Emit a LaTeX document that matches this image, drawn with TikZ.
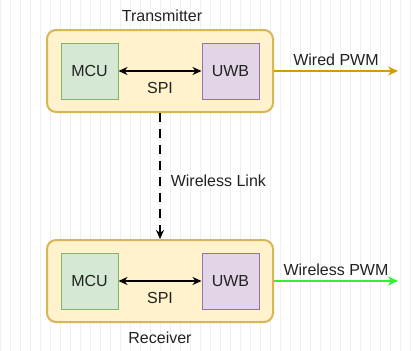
\documentclass[tikz,border=0pt]{standalone}
\usepackage{fontspec}
\setmainfont{Liberation Sans}
\usetikzlibrary{arrows.meta}
\definecolor{ybox}{HTML}{FFF2CC}
\definecolor{yline}{HTML}{D6B656}
\definecolor{gfill}{HTML}{D5E8D4}
\definecolor{gline}{HTML}{82B366}
\definecolor{pfill}{HTML}{E1D5E7}
\definecolor{pline}{HTML}{9673A6}
\definecolor{orangeline}{HTML}{D79B00}
\definecolor{greenline}{HTML}{33EE33}
\definecolor{gridc}{HTML}{F0F0F0}
\definecolor{txt}{HTML}{222222}
\begin{document}
\begin{tikzpicture}[x=1pt,y=-1pt,
  font=\fontsize{16}{19}\selectfont, text=txt,
  outer/.style={draw=yline, fill=ybox, line width=2pt, rounded corners=9pt},
  mcubox/.style={draw=gline, fill=gfill, line width=1pt, minimum width=57pt, minimum height=56pt, inner sep=0pt},
  uwbbox/.style={draw=pline, fill=pfill, line width=1pt, minimum width=57pt, minimum height=56pt, inner sep=0pt},
  tip/.style={Stealth[length=9pt,width=8pt]},
  spiarrow/.style={{Stealth[length=9pt,width=8pt]}-{Stealth[length=9pt,width=8pt]}, line width=1.6pt, black},
  outarrow/.style={-{Stealth[length=10pt,width=9pt]}, line width=1.6pt},
  lbl/.style={inner sep=1pt, text=txt}
]
\useasboundingbox (0,0) rectangle (413,351);
\fill[white] (0,0) rectangle (413,351);
\draw[gridc, line width=0.5pt, step=10] (0,0) grid (413,351);

% Transmitter
\node[outer, minimum width=226pt, minimum height=82pt, inner sep=0pt] (tx) at (160,71) {};
\node[lbl] (txl) at (162,16) {Transmitter};
\node[mcubox] (mcu1) at (89.5,71) {MCU};
\node[uwbbox] (uwb1) at (230.5,71) {UWB};
\draw[spiarrow] (mcu1.east) -- (uwb1.west) node[midway, below=10pt, fill=ybox, lbl] (spi1) {SPI};
\coordinate (wend) at (398,71);
\draw[outarrow, orangeline] (tx.east) -- (wend) node[midway, above=4pt, lbl] (wpwm) {Wired PWM};

% Receiver
\node[outer, minimum width=226pt, minimum height=82pt, inner sep=0pt] (rx) at (160,281) {};
\node[lbl] (rxl) at (160,338) {Receiver};
\node[mcubox] (mcu2) at (89.5,281) {MCU};
\node[uwbbox] (uwb2) at (230.5,281) {UWB};
\draw[spiarrow] (mcu2.east) -- (uwb2.west) node[midway, below=10pt, fill=ybox, lbl] (spi2) {SPI};
\coordinate (rend) at (398,281);
\draw[outarrow, greenline] (rx.east) -- (rend) node[midway, above=4pt, lbl] (rpwm) {Wireless PWM};

% Wireless link
\draw[-{Stealth[length=9pt,width=8pt]}, line width=1.6pt, dash pattern=on 9pt off 7pt, black] (tx.south) -- (rx.north)
  node[pos=0.54, right=9pt, lbl] (wl) {Wireless Link};
\end{tikzpicture}
\end{document}
